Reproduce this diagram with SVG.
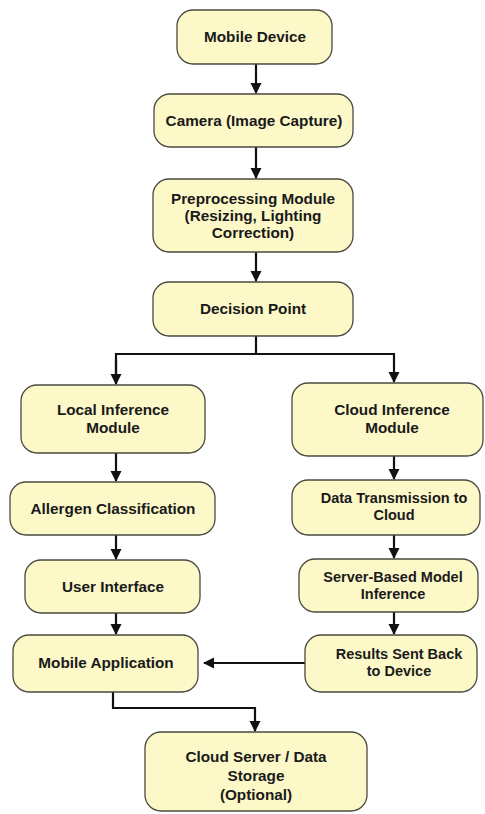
<svg xmlns="http://www.w3.org/2000/svg" width="485" height="814" viewBox="0 0 485 814">
<style>
.box{fill:#fcf8c8;stroke:#4a4a40;stroke-width:1.3}
.t{font-family:"Liberation Sans",Arial,sans-serif;font-weight:bold;font-size:15.3px;fill:#1a1a1a;text-anchor:middle}
.s{font-size:14.5px}
.c{fill:none;stroke:#111;stroke-width:2.2}
</style>
<defs>
<marker id="ah" markerWidth="12" markerHeight="12" refX="10" refY="6" orient="auto" markerUnits="userSpaceOnUse">
<path d="M0,0.5 L11,6 L0,11.5 z" fill="#111"/>
</marker>
</defs>
<rect width="485" height="814" fill="#fff"/>
<g id="connectors">
<line class="c" x1="256" y1="64" x2="256" y2="93" marker-end="url(#ah)"/>
<line class="c" x1="256" y1="147" x2="256" y2="178" marker-end="url(#ah)"/>
<line class="c" x1="256" y1="252" x2="256" y2="281" marker-end="url(#ah)"/>
<polyline class="c" points="256,336 256,354"/>
<polyline class="c" points="116,383 116,354 394,354 394,382" marker-end="url(#ah)"/>
<line class="c" x1="116" y1="360" x2="116" y2="384" marker-end="url(#ah)"/>
<line class="c" x1="116" y1="453" x2="116" y2="481" marker-end="url(#ah)"/>
<line class="c" x1="116" y1="535" x2="116" y2="559" marker-end="url(#ah)"/>
<line class="c" x1="116" y1="613" x2="116" y2="634" marker-end="url(#ah)"/>
<line class="c" x1="394" y1="456" x2="394" y2="479" marker-end="url(#ah)"/>
<line class="c" x1="394" y1="535" x2="394" y2="558" marker-end="url(#ah)"/>
<line class="c" x1="394" y1="612" x2="394" y2="634" marker-end="url(#ah)"/>
<line class="c" x1="305" y1="663" x2="204" y2="663" marker-end="url(#ah)"/>
<polyline class="c" points="113,692 113,708 255,708 255,731" marker-end="url(#ah)"/>
</g>
<g id="mobile-device"><rect class="box" x="177" y="10" width="155" height="54" rx="16"/><text class="t" x="255" y="42">Mobile Device</text></g>
<g id="camera"><rect class="box" x="154" y="94" width="199" height="53" rx="16"/><text class="t" x="254" y="126">Camera (Image Capture)</text></g>
<g id="preprocessing"><rect class="box" x="153" y="179" width="200" height="73" rx="16"/><text class="t" x="253" y="204">Preprocessing Module</text><text class="t" x="253" y="221">(Resizing, Lighting</text><text class="t" x="253" y="238">Correction)</text></g>
<g id="decision"><rect class="box" x="153" y="282" width="200" height="54" rx="16"/><text class="t" x="253" y="314">Decision Point</text></g>
<g id="local-inference"><rect class="box" x="21" y="385" width="184" height="68" rx="16"/><text class="t" x="113" y="415">Local Inference</text><text class="t" x="113" y="433">Module</text></g>
<g id="allergen"><rect class="box" x="10" y="482" width="205" height="53" rx="16"/><text class="t" x="113" y="514">Allergen Classification</text></g>
<g id="user-interface"><rect class="box" x="25" y="560" width="175" height="53" rx="16"/><text class="t" x="113" y="592">User Interface</text></g>
<g id="mobile-app"><rect class="box" x="13" y="635" width="185" height="57" rx="16"/><text class="t" x="106" y="668">Mobile Application</text></g>
<g id="cloud-inference"><rect class="box" x="292" y="383" width="191" height="73" rx="16"/><text class="t" x="392" y="415">Cloud Inference</text><text class="t" x="392" y="433">Module</text></g>
<g id="data-transmission"><rect class="box" x="292" y="480" width="188" height="55" rx="16"/><text class="t s" x="394" y="503">Data Transmission to</text><text class="t s" x="394" y="520">Cloud</text></g>
<g id="server-inference"><rect class="box" x="299" y="559" width="179" height="53" rx="16"/><text class="t s" x="393" y="582">Server-Based Model</text><text class="t s" x="393" y="599">Inference</text></g>
<g id="results"><rect class="box" x="305" y="635" width="172" height="57" rx="16"/><text class="t s" x="399" y="659">Results Sent Back</text><text class="t s" x="399" y="676">to Device</text></g>
<g id="cloud-storage"><rect class="box" x="145" y="732" width="222" height="79" rx="16"/><text class="t" x="256" y="762">Cloud Server / Data</text><text class="t" x="256" y="781">Storage</text><text class="t" x="256" y="800">(Optional)</text></g>
</svg>
